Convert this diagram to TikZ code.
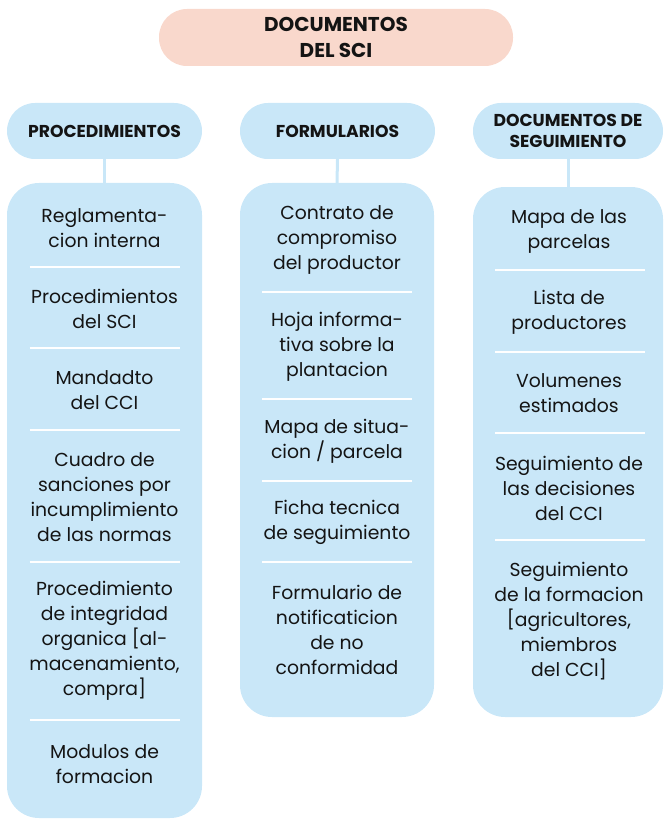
\documentclass[tikz,border=0pt]{standalone}
\usepackage{fontspec}
\setmainfont{Poppins}
\definecolor{boxblue}{RGB}{201,231,248}
\definecolor{boxpink}{RGB}{249,216,204}
\definecolor{txt}{RGB}{20,20,20}
\begin{document}
\begin{tikzpicture}[x=1pt,y=-1pt,
  pill/.style={fill=boxpink, rounded corners=28pt, minimum width=354pt, minimum height=57pt, inner sep=0pt, align=center, text=txt, font=\fontsize{20}{26}\selectfont\bfseries},
  head/.style={fill=boxblue, rounded corners=28pt, minimum height=56pt, inner sep=0pt, align=center, text=txt, font=\fontsize{17.2}{21}\selectfont\bfseries},
  colbox/.style={fill=boxblue, rounded corners=32pt, inner sep=0pt},
  item/.style={align=center, text=txt, inner sep=0pt, font=\fontsize{18.8}{25}\selectfont},
  sepline/.style={draw=white, line width=1.5pt},
  conn/.style={draw=boxblue, line width=3pt}]
\useasboundingbox (0,0) rectangle (664,821);
% top
\node[pill] (top) at (336,37.5) {DOCUMENTOS\\DEL SCI};
% headers
\node[head, minimum width=195pt] (h1) at (104.5,131) {PROCEDIMIENTOS};
\node[head, minimum width=195pt] (h2) at (337.5,131) {FORMULARIOS};
\node[head, minimum width=190pt] (h3) at (568,131) {DOCUMENTOS DE\\SEGUIMIENTO};
% columns
\node[colbox, minimum width=195pt, minimum height=635pt] (c1) at (104.5,500.5) {};
\node[colbox, minimum width=194pt, minimum height=534pt] (c2) at (337,450) {};
\node[colbox, minimum width=190pt, minimum height=530pt] (c3) at (568,452) {};
% connectors
\draw[conn] (h1.south) -- (c1.north);
\draw[conn] (h2.south) -- (c2.north);
\draw[conn] (h3.south) -- (c3.north);
% column 1
\node[item] (a1) at (104.5,228) {Reglamenta-\\cion interna};
\node[item] (a2) at (104.5,309) {Procedimientos\\del SCI};
\node[item] (a3) at (104.5,390) {Mandadto\\del CCI};
\node[item] (a4) at (104.5,497) {Cuadro de\\sanciones por\\incumplimiento\\de las normas};
\node[item] (a5) at (104.5,641) {Procedimiento\\de integridad\\organica {[}al-\\macenamiento,\\compra{]}};
\node[item] (a6) at (104.5,764) {Modulos de\\formacion};
\foreach \y in {267,348,430,562,720} \draw[sepline] (29.5,\y) -- (179.5,\y);
% column 2
\node[item] (b1) at (337,240) {Contrato de\\compromiso\\del productor};
\node[item] (b2) at (337,347) {Hoja informa-\\tiva sobre la\\plantacion};
\node[item] (b3) at (337,441) {Mapa de situa-\\cion / parcela};
\node[item] (b4) at (337,522) {Ficha tecnica\\de seguimiento};
\node[item] (b5) at (337,630) {Formulario de\\notificaticion\\de no\\conformidad};
\foreach \y in {292,399,481,562} \draw[sepline] (262,\y) -- (412,\y);
% column 3
\node[item] (d1) at (569,231) {Mapa de las\\parcelas};
\node[item] (d2) at (569,312) {Lista de\\productores};
\node[item] (d3) at (569,393) {Volumenes\\estimados};
\node[item] (d4) at (569,488) {Seguimiento de\\las decisiones\\del CCI};
\node[item] (d5) at (569,621) {Seguimiento\\de la formacion\\{[}agricultores,\\miembros\\del CCI{]}};
\foreach \y in {270,352,433,540} \draw[sepline] (495,\y) -- (645,\y);
\end{tikzpicture}
\end{document}
